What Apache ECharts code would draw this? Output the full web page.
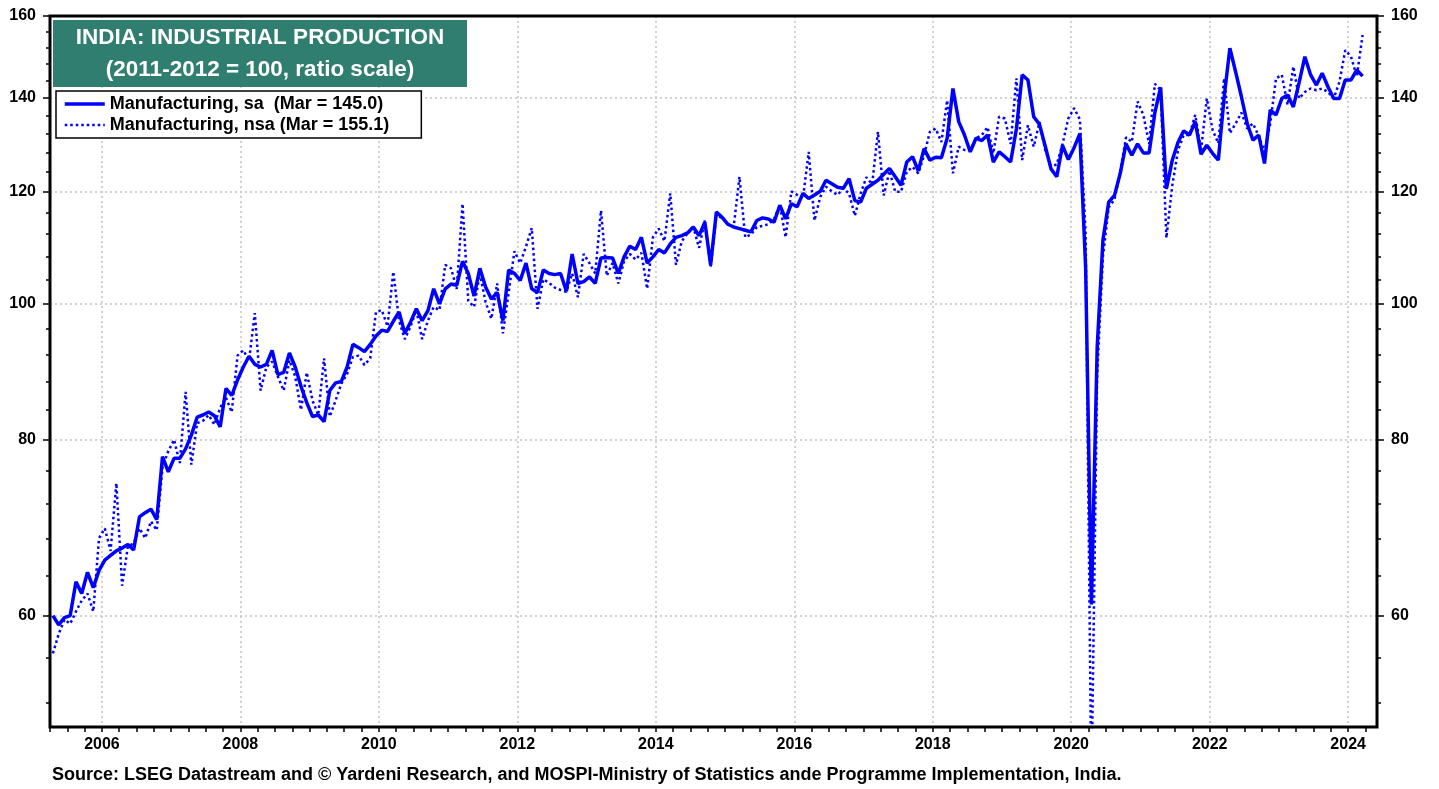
<!DOCTYPE html>
<html>
<head>
<meta charset="utf-8">
<title>India: Industrial Production</title>
<script src="https://cdn.jsdelivr.net/npm/echarts@6.0.0/dist/echarts.min.js"></script>
<style>
  html, body { margin: 0; padding: 0; background: #fff; }
  #chart { width: 1439px; height: 789px; }
</style>
</head>
<body>
<div id="chart"></div>
<script>
// monthly data, first value = Apr 2005, last = Mar 2024
const startYear = 2005
const startMonth = 4

const saValues = [
  60.0, 59.1, 59.8, 60.0, 63.4, 62.2, 64.4, 62.8, 64.6,
  65.7, 66.2, 66.7, 67.0, 67.4, 66.8, 70.5, 71.0, 71.4, 70.2, 77.8, 75.9,
  77.6, 77.6, 78.8, 80.6, 83.0, 83.3, 83.7, 83.2, 81.7, 87.0, 86.0, 88.2,
  90.1, 91.7, 90.5, 90.1, 90.5, 92.6, 89.0, 89.3, 92.2, 90.1, 87.3, 85.0,
  83.1, 83.3, 82.4, 86.7, 87.8, 88.0, 90.1, 93.5, 93.0, 92.4, 93.5, 94.8,
  95.7, 95.5, 97.1, 98.6, 95.2, 97.0, 99.1, 97.2, 98.8, 102.4, 99.9, 102.4,
  103.2, 103.0, 107.1, 105.0, 101.2, 105.9, 102.7, 100.7, 101.8, 97.2, 105.6, 105.0,
  103.8, 106.8, 102.4, 101.8, 105.6, 105.0, 104.8, 105.0, 102.0, 108.4, 103.3, 103.6,
  104.4, 103.3, 107.7, 107.8, 107.7, 105.0, 107.9, 109.8, 109.2, 111.4, 106.8, 107.9,
  109.2, 108.6, 110.2, 111.4, 111.7, 112.2, 113.3, 111.7, 114.2, 106.5, 116.1, 115.1,
  113.8, 113.3, 113.0, 112.7, 112.4, 114.5, 115.0, 114.8, 114.2, 117.4, 114.8, 117.7,
  117.1, 119.7, 118.7, 119.4, 120.1, 122.3, 121.6, 120.9, 120.7, 122.6, 118.3, 118.0,
  120.7, 121.5, 122.3, 123.5, 124.7, 123.0, 121.3, 126.0, 127.1, 124.2, 128.8, 126.4,
  127.0, 126.9, 131.0, 142.1, 134.6, 131.7, 128.1, 131.0, 130.5, 131.7, 126.0, 128.1,
  127.1, 126.0, 133.0, 145.3, 144.1, 135.7, 134.0, 129.3, 124.6, 123.0, 129.5, 126.5,
  129.0, 132.0, 106.0, 61.1, 93.0, 110.9, 118.0, 119.3, 123.7, 129.8, 127.4, 129.8,
  127.9, 127.9, 136.6, 142.4, 120.6, 126.3, 130.1, 132.6, 131.7, 134.6, 127.6, 129.5,
  127.8, 126.4, 140.0, 151.8, 146.0, 140.2, 134.2, 130.6, 131.7, 125.7, 137.2, 136.1,
  139.8, 140.6, 137.9, 143.5, 149.7, 145.3, 142.9, 145.7, 142.5, 139.8, 139.8, 144.1,
  144.1, 146.5, 145.0
]

const nsaValues = [
  56.4, 58.2, 59.6, 59.2, 60.4, 61.5, 62.2, 60.4, 68.1,
  69.2, 66.7, 74.5, 63.0, 67.2, 67.5, 69.2, 68.1, 70.0, 69.0, 76.5, 78.5,
  80.0, 77.0, 86.5, 76.8, 82.2, 82.5, 83.3, 82.0, 84.3, 85.7, 83.7, 91.8,
  92.6, 91.1, 98.4, 86.7, 90.1, 90.9, 88.7, 86.7, 91.1, 88.7, 84.0, 89.3,
  85.3, 83.3, 91.4, 83.1, 85.3, 87.7, 89.1, 91.6, 91.8, 90.4, 91.4, 98.6,
  98.9, 96.3, 105.3, 97.2, 94.3, 96.3, 98.9, 94.3, 97.2, 99.4, 98.9, 106.5,
  105.9, 102.4, 117.7, 100.4, 99.4, 105.0, 100.2, 97.5, 103.3, 95.2, 101.8, 108.9,
  106.8, 109.7, 113.1, 99.1, 104.0, 103.4, 102.6, 102.2, 101.9, 105.0, 101.0, 108.4,
  106.8, 105.0, 116.4, 104.6, 106.8, 103.3, 107.1, 108.4, 107.4, 108.6, 102.4, 111.4,
  113.0, 110.7, 119.7, 106.5, 110.7, 112.1, 113.3, 109.5, 114.5, 106.0, 115.5, 115.0,
  113.8, 113.3, 123.0, 111.4, 111.9, 113.3, 113.5, 113.8, 114.8, 117.4, 111.4, 120.1,
  119.4, 118.7, 128.1, 114.5, 119.0, 121.0, 120.1, 119.4, 120.7, 119.7, 115.4, 119.7,
  122.9, 121.5, 132.4, 119.3, 124.2, 120.0, 120.0, 124.0, 125.0, 123.7, 127.4, 132.4,
  133.1, 130.2, 139.4, 123.7, 129.2, 128.5, 128.5, 131.0, 131.7, 133.4, 127.8, 135.7,
  135.3, 129.8, 144.5, 126.4, 133.8, 129.2, 134.5, 128.5, 125.1, 125.5, 129.8, 135.3,
  137.6, 135.1, 112.0, 45.0, 89.0, 108.0, 117.0, 118.5, 124.0, 131.2, 130.2, 139.1,
  136.1, 129.8, 143.2, 141.7, 111.3, 121.1, 128.4, 131.7, 131.7, 136.1, 128.4, 139.8,
  132.8, 129.9, 144.5, 132.1, 134.2, 136.6, 133.1, 134.2, 131.5, 128.1, 134.2, 144.5,
  145.3, 138.3, 147.3, 139.8, 141.3, 142.1, 141.7, 142.1, 141.3, 139.8, 143.7, 151.3,
  149.7, 144.9, 155.1
]

const yLabelValues = [60, 80, 100, 120, 140, 160]
const yGridValues = [60, 80, 100, 120, 140]
const yMinorValues = [52, 56, 64, 68, 72, 76, 84, 88, 92, 96, 104, 108, 112, 116, 124, 128, 132, 136, 144, 148, 152, 156]
const yearLabels = [2006, 2008, 2010, 2012, 2014, 2016, 2018, 2020, 2022, 2024]

const saName = 'Manufacturing, sa  (Mar = 145.0)'
const nsaName = 'Manufacturing, nsa (Mar = 155.1)'

const FONT = '"Liberation Sans", Arial, Helvetica, sans-serif'
const yMin = Math.log(50)
const yMax = Math.log(160)
const xMin = 2005.25
const xMax = 2024 + 5 / 12

// ratio scale: plot the natural log, label with the level
function toPoints (values) {
  return values.map(function (v, i) {
    return [startYear + (startMonth - 1 + i + 0.5) / 12, Math.log(v)]
  })
}

let quarterTicks = []
for (let q = xMin; q <= 2024.25 + 1e-9; q += 0.25) quarterTicks.push(q)

const gridLine = { color: '#c4c4c4', width: 1.5, type: [2, 3] }
const tickLine = { color: '#000', width: 1.5 }
const labelText = { fontFamily: FONT, fontWeight: 'bold', fontSize: 16, color: '#000' }
const saLine = { color: '#0000ff', width: 3.5 }
const nsaLine = { color: '#0000ff', width: 2.5, type: [2.5, 3] }

function yAxisDef (position, values, tickLen, withLabels) {
  return {
    type: 'value',
    position: position,
    min: yMin,
    max: yMax,
    axisLine: { show: false },
    axisTick: { show: true, length: tickLen, lineStyle: tickLine, customValues: values.map(Math.log) },
    axisLabel: Object.assign({
      show: withLabels,
      margin: 14,
      customValues: values.map(Math.log),
      formatter: function (v) { return String(Math.round(Math.exp(v))) }
    }, labelText),
    splitLine: { show: false }
  }
}

let myChart = echarts.init(document.getElementById('chart'))
myChart.setOption({
  animation: false,
  backgroundColor: '#fff',
  grid: {
    left: 50,
    right: 62,
    top: 16,
    bottom: 62
  },
  xAxis: [{
    type: 'value',
    min: xMin,
    max: xMax,
    position: 'bottom',
    axisLine: { show: false },
    axisTick: { show: true, length: 5, lineStyle: tickLine, customValues: quarterTicks },
    axisLabel: Object.assign({
      margin: 10,
      customValues: yearLabels,
      formatter: function (v) { return String(Math.round(v)) }
    }, labelText),
    splitLine: { show: false }
  }, {
    // only for the dotted year gridlines
    type: 'value',
    min: xMin,
    max: xMax,
    position: 'bottom',
    axisLine: { show: false },
    axisTick: { show: false, customValues: yearLabels },
    axisLabel: { show: false },
    splitLine: { show: true, lineStyle: gridLine }
  }],
  yAxis: [
    yAxisDef('left', yLabelValues, 7, true),
    yAxisDef('left', yMinorValues, 4, false),
    yAxisDef('right', yLabelValues, 7, true),
    yAxisDef('right', yMinorValues, 4, false),
    {
      // only for the dotted level gridlines
      type: 'value',
      position: 'left',
      min: yMin,
      max: yMax,
      axisLine: { show: false },
      axisTick: { show: false, customValues: yGridValues.map(Math.log) },
      axisLabel: { show: false },
      splitLine: { show: true, lineStyle: gridLine }
    }
  ],
  legend: {
    left: 56,
    top: 91,
    orient: 'vertical',
    data: [
      { name: saName, lineStyle: saLine },
      { name: nsaName, lineStyle: nsaLine }
    ],
    selectedMode: false,
    itemWidth: 40,
    itemHeight: 12,
    itemGap: 3,
    padding: [4, 32, 4, 7],
    backgroundColor: '#fff',
    borderColor: '#000',
    borderWidth: 1.5,
    itemStyle: { opacity: 0 },
    textStyle: { fontFamily: FONT, fontWeight: 'bold', fontSize: 18, color: '#000' }
  },
  series: [
    {
      name: nsaName,
      type: 'line',
      symbol: 'none',
      z: 3,
      data: toPoints(nsaValues),
      itemStyle: { color: '#0000ff' },
      lineStyle: nsaLine
    },
    {
      name: saName,
      type: 'line',
      symbol: 'none',
      z: 4,
      data: toPoints(saValues),
      itemStyle: { color: '#0000ff' },
      lineStyle: saLine
    }
  ],
  graphic: [
    {
      // plot frame
      type: 'rect',
      z: 90,
      silent: true,
      shape: { x: 50, y: 16, width: 1327, height: 711 },
      style: { fill: 'none', stroke: '#000', lineWidth: 3 }
    },
    {
      type: 'rect',
      z: 100,
      shape: { x: 53, y: 20, width: 414, height: 67 },
      style: { fill: '#2f7e6f' }
    },
    {
      type: 'text',
      z: 101,
      x: 260,
      y: 38,
      style: { text: 'INDIA: INDUSTRIAL PRODUCTION', fill: '#fff', align: 'center', verticalAlign: 'middle', font: 'bold 22.5px ' + FONT }
    },
    {
      type: 'text',
      z: 101,
      x: 260,
      y: 70,
      style: { text: '(2011-2012 = 100, ratio scale)', fill: '#fff', align: 'center', verticalAlign: 'middle', font: 'bold 22.5px ' + FONT }
    },
    {
      type: 'text',
      z: 101,
      x: 52,
      y: 775,
      style: {
        text: 'Source: LSEG Datastream and \u00a9 Yardeni Research, and MOSPI-Ministry of Statistics ande Programme Implementation, India.',
        fill: '#000',
        align: 'left',
        verticalAlign: 'middle',
        font: 'bold 18px ' + FONT
      }
    }
  ]
})
window.onresize = myChart.resize
</script>
</body>
</html>
